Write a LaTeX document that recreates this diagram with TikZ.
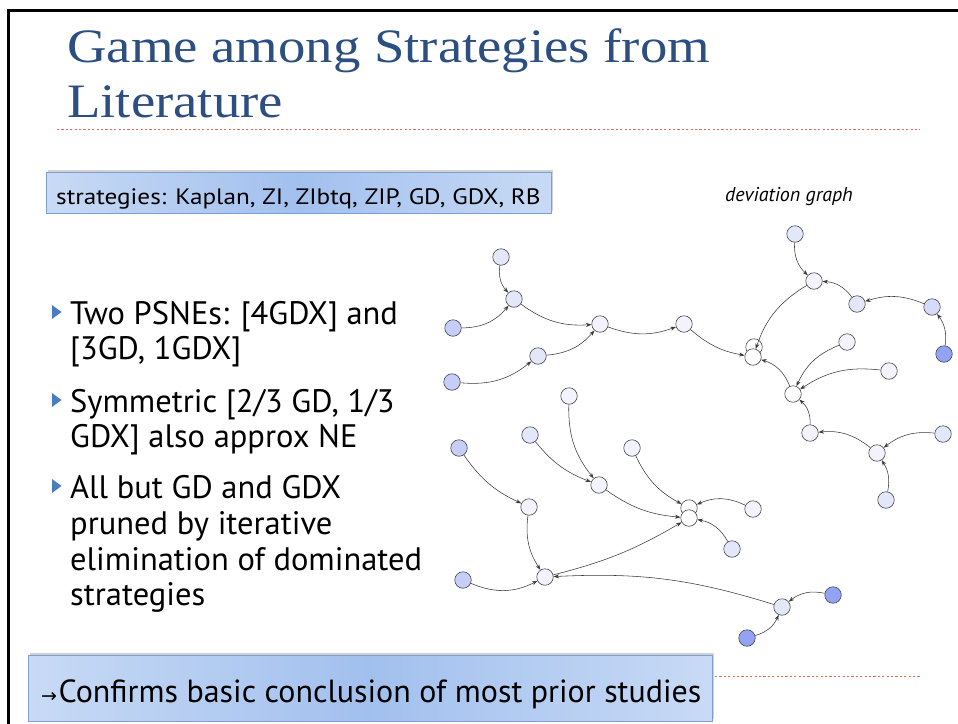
\documentclass[tikz,border=0pt]{standalone}
\usepackage{fontspec}
\setmainfont{PT Sans}
\newfontfamily\titlefont[FakeStretch=1.14]{Liberation Serif}
\newfontfamily\gill{PT Sans}
\newfontfamily\gillwide[FakeStretch=1.13]{PT Sans}
\newfontfamily\dejavu{DejaVu Sans}
\usetikzlibrary{arrows.meta,shadows}
\definecolor{titleblue}{HTML}{2C4E80}
\definecolor{dashred}{HTML}{E06A5A}
\definecolor{bulletblue}{HTML}{4A7CC0}
\definecolor{boxlight}{HTML}{C8DAF5}
\definecolor{boxmid}{HTML}{A2C0EE}
\definecolor{boxedge}{HTML}{7F9FD2}
\definecolor{edgegray}{HTML}{3A3A3A}
\definecolor{c0}{HTML}{FFFFFF}
\definecolor{c1}{HTML}{F2F3FD}
\definecolor{c2}{HTML}{E3E7FA}
\definecolor{c3}{HTML}{C6CEF8}
\definecolor{c3b}{HTML}{D5DBF8}
\definecolor{c4}{HTML}{93A2F3}
\begin{document}
\begin{tikzpicture}[x=1pt,y=-1pt,
  gn/.style={circle, draw=black!72, line width=0.6pt, minimum size=16.5pt, inner sep=0pt},
  dedge/.style={draw=edgegray, line width=0.55pt, -{Stealth[length=5.5pt,width=4pt]}},
  titletext/.style={anchor=base west, inner sep=0pt, text=titleblue, font=\titlefont\fontsize{48}{52}\selectfont},
  bullettext/.style={anchor=base west, inner sep=0pt, font=\gill\fontsize{32.5}{36}\selectfont},
  bluebox/.style={draw=boxedge, line width=0.6pt, left color=boxlight, right color=boxlight, middle color=boxmid,
     drop shadow={shadow xshift=1.5pt, shadow yshift=2pt, opacity=0.35}},
  bmark/.style={fill=bulletblue, draw=none},
  reddash/.style={draw=dashred, line width=0.8pt, dash pattern=on 2.2pt off 2.2pt}
]
\useasboundingbox (0,0) rectangle (958,723);
\fill[white] (0,0) rectangle (958,723);
% frame
\draw[line width=3pt, line cap=rect] (8,723) -- (8,10.5) -- (958,10.5);

% title
\node[titletext] (t1) at (67,62) {Game among Strategies from};
\node[titletext] (t2) at (67,117) {Literature};
\draw[reddash] (57,129) -- (920,129);

% strategies box
\path[bluebox] (46,172) rectangle (551,213);
\node[anchor=base west, inner sep=0pt, font=\gillwide\fontsize{22.3}{25}\selectfont] (strat) at (56,204) {strategies: Kaplan, ZI, ZIbtq, ZIP, GD, GDX, RB};

\node[inner sep=0pt, font=\gill\itshape\fontsize{20}{23}\selectfont] (dev) at (789,197) {deviation graph};

% bullets
\foreach \yy in {312,400,486} {
  \fill[bmark] (52,\yy-7) -- (61.5,\yy) -- (52,\yy+7) -- cycle;
}
\node[bullettext] (b1) at (70,324) {Two PSNEs: [4GDX] and};
\node[bullettext] (b2) at (70,359) {[3GD, 1GDX]};
\node[bullettext] (b3) at (70,412) {Symmetric [2/3 GD, 1/3};
\node[bullettext] (b4) at (70,447) {GDX] also approx NE};
\node[bullettext] (b5) at (70,498) {All but GD and GDX};
\node[bullettext] (b6) at (70,534) {pruned by iterative};
\node[bullettext] (b7) at (70,570) {elimination of dominated};
\node[bullettext] (b8) at (70,605) {strategies};

% bottom box
\path[bluebox] (28,655) rectangle (712,721);
\node[anchor=base west, inner sep=0pt, font=\gill\fontsize{32}{35}\selectfont] (concl) at (41,702) {{\dejavu\fontsize{19}{24}\selectfont →}\kern1.5pt Confirms basic conclusion of most prior studies};
\draw[reddash] (715,676) -- (920,676);

% graph nodes
\node[gn, fill=c2] (A1) at (501,257) {};
\node[gn, fill=c2] (A2) at (514,299) {};
\node[gn, fill=c3] (A3) at (453,328) {};
\node[gn, fill=c1] (A4) at (600,324) {};
\node[gn, fill=c1] (A5) at (684,324) {};
\node[gn, fill=c2] (A6) at (538,356) {};
\node[gn, fill=c3] (A7) at (452,382) {};
\node[gn, fill=c2] (C1) at (795,234) {};
\node[gn, fill=c1] (C2) at (814,281) {};
\node[gn, fill=c2] (C3) at (857,304) {};
\node[gn, fill=c3b] (C4) at (932,307) {};
\node[gn, fill=c4] (C5) at (944,354) {};
\node[gn, fill=c0] (D1) at (754,347) {};
\node[gn, fill=c0] (D2) at (753,357) {};
\node[gn, fill=c1] (E1) at (847,342) {};
\node[gn, fill=c1] (E2) at (889,371) {};
\node[gn, fill=c0] (F) at (793,394) {};
\node[gn, fill=c1] (G) at (810,433) {};
\node[gn, fill=c1] (H) at (877,453) {};
\node[gn, fill=c2] (H1) at (943,434) {};
\node[gn, fill=c2] (H2) at (886,500) {};
\node[gn, fill=c1] (I1) at (753,509) {};
\node[gn, fill=c2] (I2) at (732,549) {};
\node[gn, fill=c2] (J) at (782,607) {};
\node[gn, fill=c4] (J1) at (833,595) {};
\node[gn, fill=c4] (J2) at (747,638) {};
\node[gn, fill=c1] (B1) at (569,396) {};
\node[gn, fill=c2] (B2) at (530,435) {};
\node[gn, fill=c3] (B3) at (459,448) {};
\node[gn, fill=c1] (B4) at (632,448) {};
\node[gn, fill=c1] (B5) at (599,485) {};
\node[gn, fill=c1] (B6) at (529,507) {};
\node[gn, fill=c0] (K1) at (689,508) {};
\node[gn, fill=c0] (K2) at (689,518) {};
\node[gn, fill=c1] (L) at (545,577) {};
\node[gn, fill=c3] (L1) at (463,580) {};

% edges
\draw[dedge] (A1) to[bend right=25] (A2);
\draw[dedge] (A3) to[bend right=25] (A2);
\draw[dedge] (A2) to[bend right=20] (A4);
\draw[dedge] (A7) to[bend right=22] (A6);
\draw[dedge] (A6) to[bend right=22] (A4);
\draw[dedge] (A4) to[bend right=20] (A5);
\draw[dedge] (A5) to[bend right=15] (D2);
\draw[dedge] (C1) to[bend right=25] (C2);
\draw[dedge] (C3) to[bend right=25] (C2);
\draw[dedge] (C4) to[bend right=20] (C3);
\draw[dedge] (C5) to[bend right=22] (C4);
\draw[dedge] (C2) to[bend right=20] (D2);
\draw[dedge] (F) to[bend right=25] (D2);
\draw[dedge] (E1) to[bend right=22] (F);
\draw[dedge] (E2) to[bend right=20] (F);
\draw[dedge] (G) to[bend right=25] (F);
\draw[dedge] (H) to[bend right=22] (G);
\draw[dedge] (H1) to[bend right=22] (H);
\draw[dedge] (H2) to[bend right=22] (H);
\draw[dedge] (B1) to[bend right=20] (B5);
\draw[dedge] (B2) to[bend right=15] (B5);
\draw[dedge] (B5) to[bend right=15] (K2);
\draw[dedge] (B4) to[bend right=18] (K1);
\draw[dedge] (I1) to[bend right=25] (K1);
\draw[dedge] (I2) to[bend right=25] (K2);
\draw[dedge] (B3) to[bend right=15] (B6);
\draw[dedge] (B6) to[bend right=20] (L);
\draw[dedge] (L1) to[bend right=25] (L);
\draw[dedge] (L) to[bend right=8] (K2);
\draw[dedge] (J) to[bend right=10] (L);
\draw[dedge] (J1) to[bend right=25] (J);
\draw[dedge] (J2) to[bend right=25] (J);
\end{tikzpicture}
\end{document}
